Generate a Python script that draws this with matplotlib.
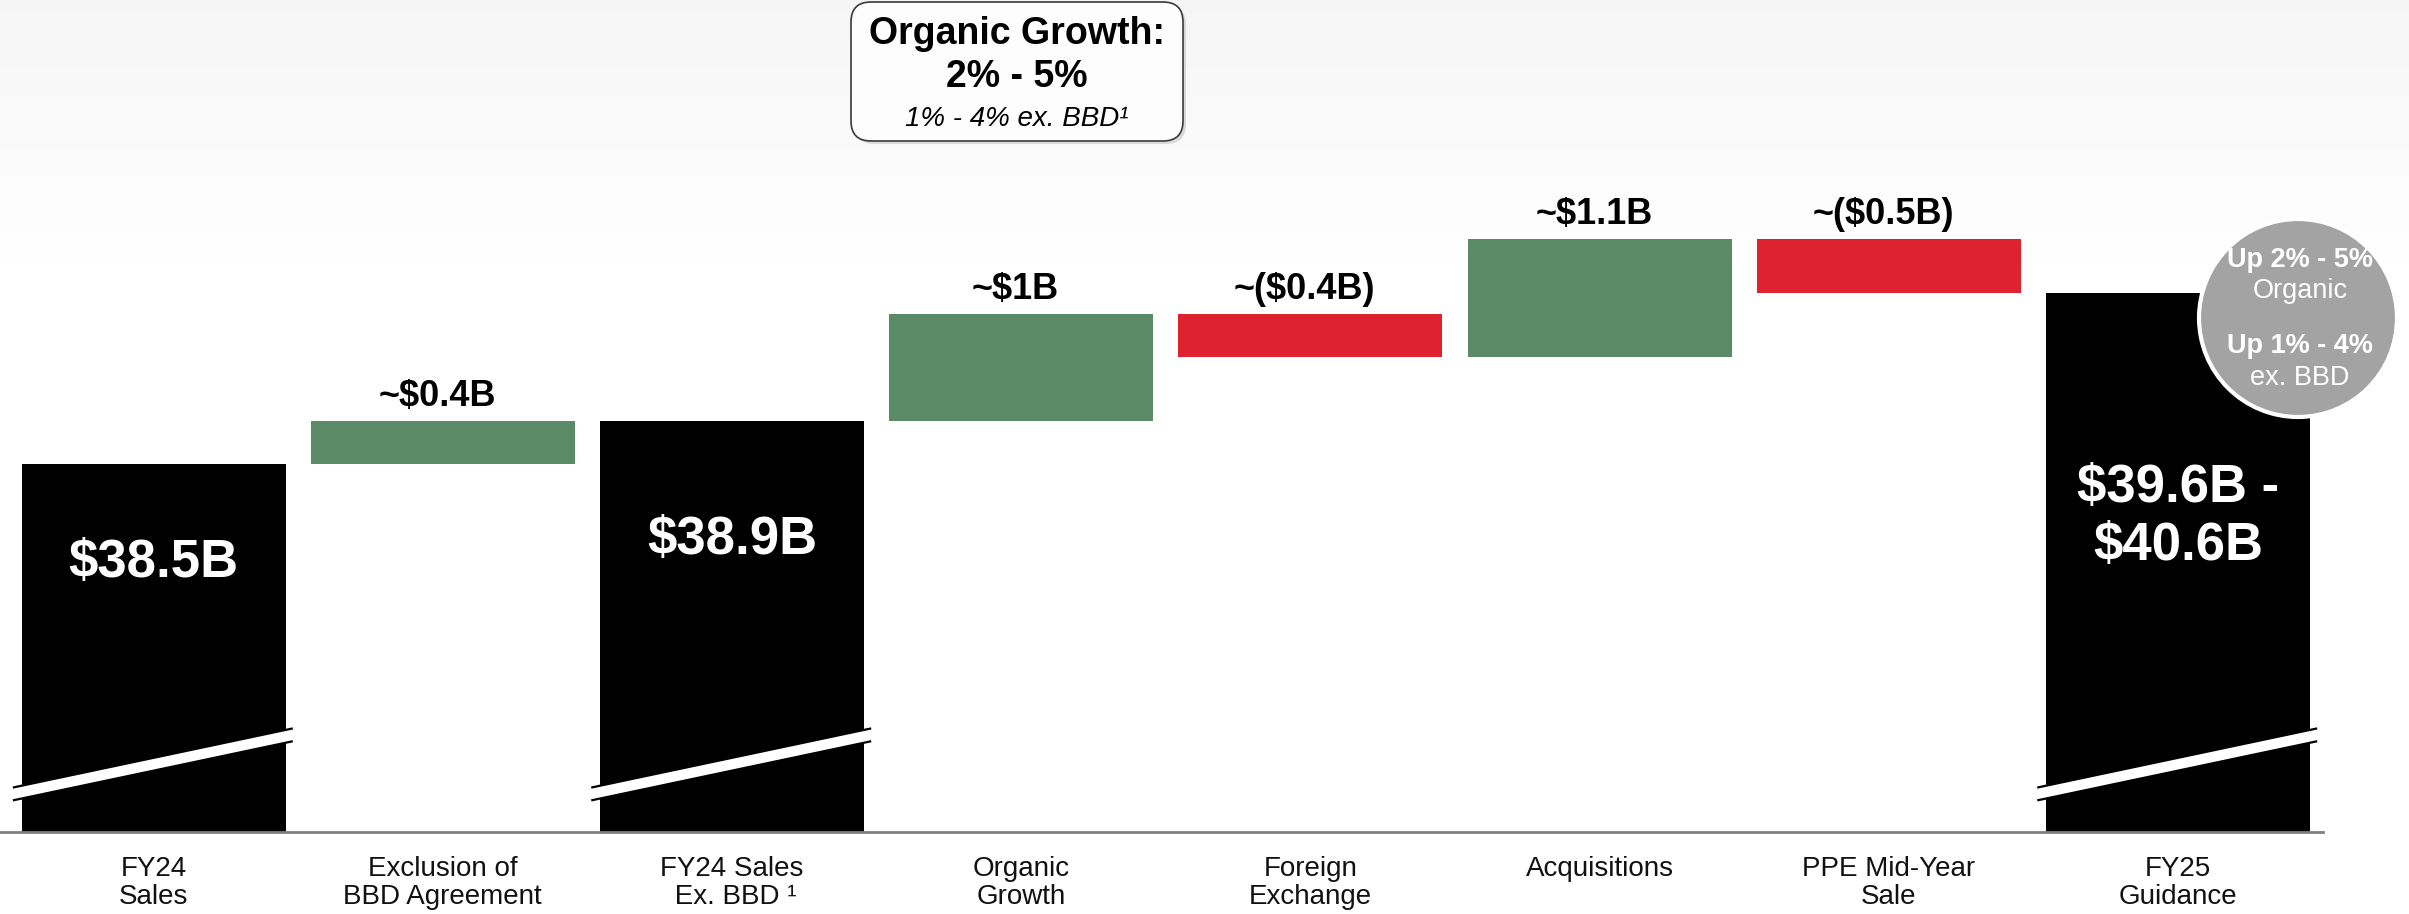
import numpy as np
import matplotlib
matplotlib.use("Agg")
import matplotlib.pyplot as plt
from matplotlib.patches import Circle, FancyBboxPatch, Polygon

plt.rcParams['font.family'] = ['Liberation Sans', 'DejaVu Sans']

# Dados (bilhões de USD)
categorias = ["FY24\nSales", "Exclusion of\nBBD Agreement", "FY24 Sales\n Ex. BBD \u00b9",
              "Organic\nGrowth", "Foreign\nExchange", "Acquisitions",
              "PPE Mid-Year\nSale", "FY25\nGuidance"]
tipos = ["total", "delta", "total", "delta", "delta", "delta", "delta", "total"]
inicio = 38.5
deltas = [0.4, 1.0, -0.4, 1.1, -0.5]
rotulos_delta = ["~$0.4B", "~$1B", "~($0.4B)", "~$1.1B", "~($0.5B)"]
rotulos_total = ["$38.5B", "$38.9B", "$39.6B -\n$40.6B"]
guidance_faixa = [39.6, 40.6]

# Cores
VERDE = "#5b8a67"
VERMELHO = "#df2230"
PRETO = "#000000"

# layout
PISO = 35.05           # valor do eixo quebrado na linha de base
LARGURA = 0.913
desloc_rotulo = [0.93, 1.12, 2.10]   # distancia do topo ate o texto branco

fig = plt.figure(figsize=(24.09, 9.14), dpi=100)

# fundo com gradiente leve no topo
bg = fig.add_axes([0, 0, 1, 1], zorder=0)
grad = np.ones((914, 1))
grad[:260, 0] = np.linspace(0.963, 1.0, 260)
bg.imshow(np.dstack([grad, grad, grad]), aspect='auto', extent=[0, 1, 0, 1])
bg.set_axis_off()

ax = fig.add_axes([0, 82 / 914, 1, 832 / 914], zorder=1)
ax.patch.set_alpha(0)
ax.set_xlim(-0.531, 7.799)
ax.set_ylim(PISO, PISO + 832 / 106.8)

# waterfall
nivel = inicio
it_delta = iter(deltas)
it_rot_d = iter(rotulos_delta)
it_rot_t = iter(rotulos_total)
it_desl = iter(desloc_rotulo)
for i, tipo in enumerate(tipos):
    if tipo == "total":
        if i == len(tipos) - 1:
            topo_barra = np.mean(guidance_faixa)
        else:
            topo_barra = nivel
        ax.bar(i, topo_barra - PISO, bottom=PISO, width=LARGURA, color=PRETO, zorder=2)
        ax.text(i, topo_barra - next(it_desl), next(it_rot_t), color="white",
                fontsize=38, fontweight="bold", ha="center", va="center",
                linespacing=1.2, parse_math=False, zorder=4)
        # marca de quebra do eixo
        xl = i - LARGURA / 2 - 0.03
        xr = i + LARGURA / 2 + 0.025
        yl, yr, esp = PISO + 0.356, PISO + 0.91, 0.06
        ax.add_patch(Polygon([[xl, yl - esp], [xr, yr - esp], [xr, yr + esp], [xl, yl + esp]],
                             closed=True, facecolor="white", edgecolor="none", zorder=3))
        ax.plot([xl, xr], [yl - esp, yr - esp], color="black", lw=1.6, zorder=3,
                solid_capstyle="butt")
        ax.plot([xl, xr], [yl + esp, yr + esp], color="black", lw=1.6, zorder=3,
                solid_capstyle="butt")
    else:
        d = next(it_delta)
        base = nivel if d > 0 else nivel + d
        ax.bar(i, abs(d), bottom=base, width=LARGURA,
               color=VERDE if d > 0 else VERMELHO, zorder=2)
        ax.annotate(next(it_rot_d), xy=(i, base + abs(d)), xytext=(-4, 11),
                    textcoords="offset points", ha="center", va="baseline",
                    fontsize=26, fontweight="bold", color="black", annotation_clip=False)
        nivel += d

# linha de base
ax.axhline(PISO, xmin=0, xmax=2323 / 2409, color="#808080", lw=2, clip_on=False, zorder=5)

ax.set_xticks(range(len(categorias)))
ax.set_xticklabels(categorias, fontsize=20, color="#111111", linespacing=1.1)
ax.tick_params(axis="x", length=0, pad=17.5)
ax.set_yticks([])
for s in ax.spines.values():
    s.set_visible(False)

# caixa "Organic Growth"
sombra = FancyBboxPatch((8.54, 7.70), 3.32, 1.39, boxstyle="round,pad=0,rounding_size=0.2",
                        transform=fig.dpi_scale_trans, facecolor="#bbbbbb", edgecolor="none",
                        alpha=0.5, zorder=5)
caixa = FancyBboxPatch((8.51, 7.73), 3.32, 1.39, boxstyle="round,pad=0,rounding_size=0.2",
                       transform=fig.dpi_scale_trans, facecolor="#fdfdfd", edgecolor="#3a3a3a",
                       lw=1.2, zorder=6)
fig.add_artist(sombra)
fig.add_artist(caixa)
fig.text(10.17 / 24.09, 8.80 / 9.14, "Organic Growth:", fontsize=27, fontweight="bold",
         ha="center", va="center", zorder=7)
fig.text(10.17 / 24.09, 8.37 / 9.14, "2% - 5%", fontsize=27, fontweight="bold",
         ha="center", va="center", zorder=7)
fig.text(10.17 / 24.09, 7.95 / 9.14, "1% - 4% ex. BBD\u00b9", fontsize=20, style="italic",
         ha="center", va="center", zorder=7)

# círculo cinza
circ = Circle((22.98, 5.96), 0.99, transform=fig.dpi_scale_trans, facecolor="#a3a3a3",
              edgecolor="white", lw=3, zorder=6)
fig.add_artist(circ)
cx = 23.0 / 24.09
fig.text(cx, (9.14 - 2.60) / 9.14, "Up 2% - 5%", color="white", fontsize=19.5,
         fontweight="bold", ha="center", va="center", zorder=7)
fig.text(cx, (9.14 - 2.91) / 9.14, "Organic", color="white", fontsize=19.5,
         ha="center", va="center", zorder=7)
fig.text(cx, (9.14 - 3.46) / 9.14, "Up 1% - 4%", color="white", fontsize=19.5,
         fontweight="bold", ha="center", va="center", zorder=7)
fig.text(cx, (9.14 - 3.78) / 9.14, "ex. BBD", color="white", fontsize=19.5,
         ha="center", va="center", zorder=7)

fig.savefig("out.png", dpi=100, facecolor="white")
